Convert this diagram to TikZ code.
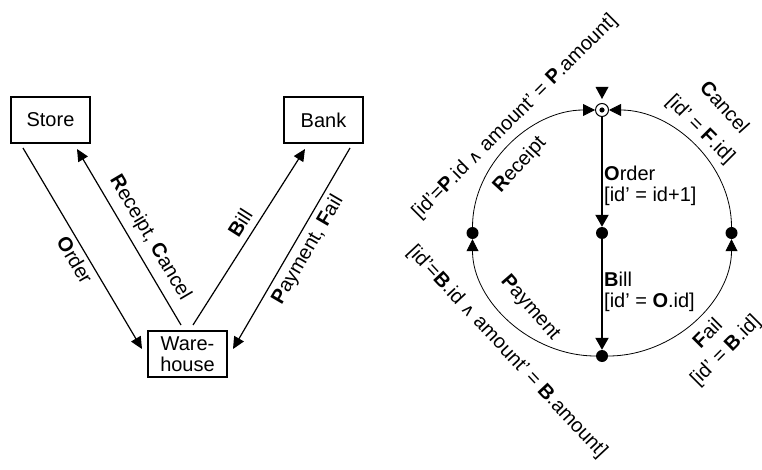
\documentclass[tikz,border=0pt]{standalone}
\usepackage{fontspec}
\setmainfont{Liberation Sans}
\newfontfamily\symfont{DejaVu Sans}
\usetikzlibrary{arrows.meta}
\newcommand{\andsym}{{\symfont\fontsize{17}{17}\selectfont ∧}}
\begin{document}
\begin{tikzpicture}[x=1pt,y=-1pt,
  font=\fontsize{20}{21}\selectfont,
  box/.style={draw, line width=1.3pt, minimum width=79pt, minimum height=46pt, inner sep=0pt, align=center},
  arr/.style={line width=1.2pt, -{Triangle[length=12pt,width=11pt]}},
  arcarr/.style={line width=0.8pt, -{Triangle[length=12pt,width=12pt]}},
  varr/.style={line width=2pt, -{Triangle[length=12pt,width=13pt]}},
  lbl/.style={inner sep=0pt},
  dotnode/.style={circle, fill, inner sep=0pt, minimum size=12pt}]
\useasboundingbox (0,0) rectangle (762,470);

% ---------- left diagram ----------
\node[box] (store) at (50.5,120) {Store};
\node[box] (bank) at (323.5,120) {Bank};
\node[box] (ware) at (187.5,354) {Ware-\\house};

\coordinate (o1) at (23,148);  \coordinate (o2) at (142,349);
\coordinate (r1) at (181,325); \coordinate (r2) at (77,149);
\coordinate (b1) at (193,325); \coordinate (b2) at (305,149);
\coordinate (p1) at (350,148); \coordinate (p2) at (233,349);

\draw[arr] (o1) -- (o2);
\draw[arr] (r1) -- (r2);
\draw[arr] (b1) -- (b2);
\draw[arr] (p1) -- (p2);

\node[lbl, rotate=-59.4] (lo) at (75,260) {\textbf{O}rder};
\node[lbl, rotate=-59.4] (lr) at (150,238) {\textbf{R}eceipt, \textbf{C}ancel};
\node[lbl, rotate=57.5] (lb) at (240,223) {\textbf{B}ill};
\node[lbl, rotate=59.7] (lp) at (308,250) {\textbf{P}ayment, \textbf{F}ail};

% ---------- right diagram ----------
\node[circle, draw, line width=1pt, minimum size=13pt, inner sep=0pt] (T) at (602,110) {};
\fill (602,110) circle (2.6);
\fill (595.5,87) -- (608.5,87) -- (602,99) -- cycle;
\node[dotnode] (M) at (602,233) {};
\node[dotnode] (B) at (602,356) {};
\node[dotnode] (L) at (472.5,233) {};
\node[dotnode] (R) at (731.5,233) {};

\draw[varr] (T) -- (M);
\draw[varr] (M) -- (B);
\draw[arcarr] (L) .. controls +(0,-68) and +(-71.5,0) .. (T);
\draw[arcarr] (R) .. controls +(0,-68) and +(71.5,0) .. (T);
\draw[arcarr] (B) .. controls +(-71.5,0) and +(0,68) .. (L);
\draw[arcarr] (B) .. controls +(71.5,0) and +(0,68) .. (R);

\node[lbl, anchor=west, align=left] (lord) at (604,186) {\textbf{O}rder\\{}[id’ = id+1]};
\node[lbl, anchor=west, align=left] (lbil) at (604,292) {\textbf{B}ill\\{}[id’ = \textbf{O}.id]};

\node[lbl, rotate=47.5] (lrec) at (520,165) {\textbf{R}eceipt};
\node[lbl, rotate=45] (grec) at (515,117) {[id’=\textbf{P}.id \andsym{} amount’ = \textbf{P}.amount]};
\node[lbl, rotate=-48] (lcan) at (725,107) {\textbf{C}ancel};
\node[lbl, rotate=-45] (gcan) at (700,130) {[id’ = \textbf{F}.id]};
\node[lbl, rotate=-49] (lpay) at (530,308) {\textbf{P}ayment};
\node[lbl, rotate=-47] (gpay) at (507,352) {[id’=\textbf{B}.id \andsym{} amount’ = \textbf{B}.amount]};
\node[lbl, rotate=45] (lfail) at (707,333) {\textbf{F}ail};
\node[lbl, rotate=45] (gfail) at (726,351) {[id’ = \textbf{B}.id]};
\end{tikzpicture}
\end{document}
